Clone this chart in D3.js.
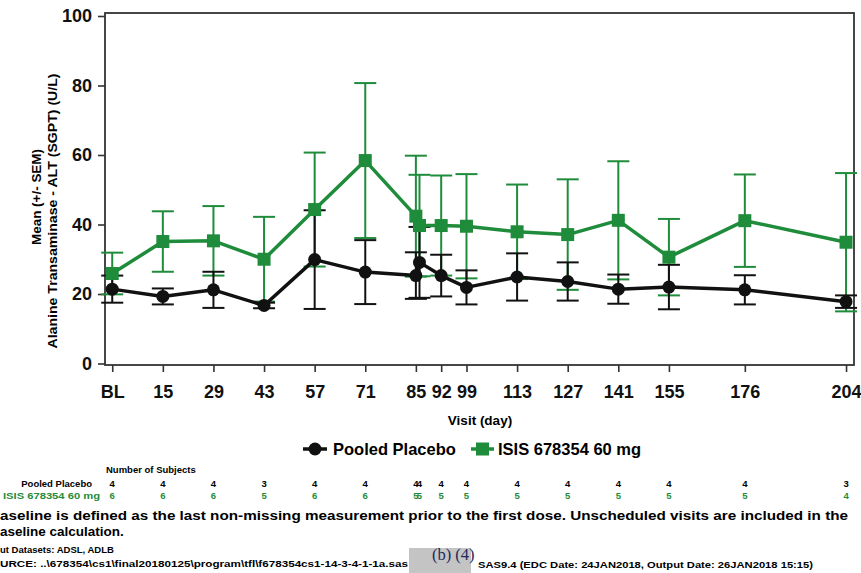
<!DOCTYPE html>
<html>
<head>
<meta charset="utf-8">
<script src="https://cdn.jsdelivr.net/npm/d3@7"></script>
<style>
  body { margin: 0; background: #fff; }
  svg  { display: block; font-family: 'Liberation Sans', Arial, sans-serif; font-weight: bold; }
</style>
</head>
<body>
<svg id="chart" width="861" height="573"></svg>
<script>
// ALT mean (+/- SEM) by visit — placebo vs ISIS 678354 60 mg

// ── Data ──────────────────────────────────────────────────────────────────────

const VISIT_DAYS   = [1, 15, 29, 43, 57, 71, 85, 86, 92, 99, 113, 127, 141, 155, 176, 204];
const TICK_DAYS    = [1, 15, 29, 43, 57, 71, 85, 92, 99, 113, 127, 141, 155, 176, 204];
const TICK_LABELS  = ['BL', '15', '29', '43', '57', '71', '85', '92', '99', '113', '127', '141', '155', '176', '204'];
const Y_TICKS      = [0, 20, 40, 60, 80, 100];

const PLACEBO_MEAN = [21.4, 19.3, 21.2, 16.7, 29.9, 26.3, 25.3, 29.1, 25.3, 21.9, 24.9, 23.6, 21.4, 22.0, 21.2, 17.8];
const PLACEBO_SEM  = [3.9, 2.3, 5.2, 0.8, 14.2, 9.2, 6.7, 10.2, 6.0, 4.9, 6.8, 5.5, 4.2, 6.4, 4.2, 1.8];
const PLACEBO_N    = [4, 4, 4, 3, 4, 4, 4, 4, 4, 4, 4, 4, 4, 4, 4, 3];

const ISIS_MEAN    = [25.9, 35.1, 35.3, 30.0, 44.3, 58.4, 42.4, 39.7, 39.7, 39.5, 37.9, 37.1, 41.2, 30.6, 41.1, 34.9];
const ISIS_SEM     = [6.0, 8.7, 10.0, 12.2, 16.4, 22.3, 17.4, 14.6, 14.4, 15.0, 13.6, 15.9, 17.0, 11.0, 13.3, 19.9];
const ISIS_N       = [6, 6, 6, 5, 6, 6, 5, 5, 5, 5, 5, 5, 5, 5, 5, 4];

const BLACK = '#111';
const GREEN = '#1f8c3b';

// ── Setup ─────────────────────────────────────────────────────────────────────

const svg = d3.select('#chart');
const L = 105, R = 854, T = 13, B = 365;

const x = d3.scaleLinear().domain([-1, 206.2]).range([L, R]);
const y = d3.scaleLinear().domain([0, 100]).range([363.5, 16]);

function series(mean, sem, n) {
  return VISIT_DAYS.map((d, i) => ({ day: d, mean: mean[i], sem: sem[i], n: n[i] }));
}
const placebo = series(PLACEBO_MEAN, PLACEBO_SEM, PLACEBO_N);
const isis    = series(ISIS_MEAN, ISIS_SEM, ISIS_N);

// ── Frame + axes ──────────────────────────────────────────────────────────────

svg.append('rect')
  .attr('x', L).attr('y', T).attr('width', R - L).attr('height', B - T)
  .attr('fill', 'none').attr('stroke', '#333').attr('stroke-width', 1.8);

const yAxis = svg.append('g')
  .attr('transform', `translate(${L},0)`)
  .call(d3.axisLeft(y).tickValues(Y_TICKS).tickSize(7).tickPadding(6));
yAxis.select('.domain').remove();
yAxis.selectAll('line').attr('stroke', '#333').attr('stroke-width', 1.6);
yAxis.selectAll('text').attr('font-size', 18).attr('fill', '#111').attr('font-family', null);

const xAxis = svg.append('g')
  .attr('transform', `translate(0,${B})`)
  .call(d3.axisBottom(x).tickValues(TICK_DAYS).tickSize(7)
    .tickFormat(d => TICK_LABELS[TICK_DAYS.indexOf(d)]));
xAxis.select('.domain').remove();
xAxis.selectAll('line').attr('stroke', '#333').attr('stroke-width', 1.6);
xAxis.selectAll('text').attr('font-size', 18).attr('fill', '#111')
  .attr('y', 33).attr('dy', 0).attr('font-family', null);

// axis titles
svg.append('text')
  .attr('transform', 'translate(41,197) rotate(-90)')
  .attr('text-anchor', 'middle').attr('font-size', 13)
  .attr('textLength', 96).attr('lengthAdjust', 'spacingAndGlyphs')
  .text('Mean (+/- SEM)');
svg.append('text')
  .attr('transform', 'translate(57,211) rotate(-90)')
  .attr('text-anchor', 'middle').attr('font-size', 13.5)
  .attr('textLength', 275).attr('lengthAdjust', 'spacingAndGlyphs')
  .text('Alanine Transaminase - ALT (SGPT) (U/L)');
svg.append('text')
  .attr('x', 480).attr('y', 425).attr('text-anchor', 'middle').attr('font-size', 13.5)
  .text('Visit (day)');

// ── Error bars + lines ────────────────────────────────────────────────────────

function drawBars(data, color) {
  const g = svg.append('g').attr('stroke', color).attr('stroke-width', 2);
  data.forEach(d => {
    const cx = x(d.day), y0 = y(d.mean - d.sem), y1 = y(d.mean + d.sem);
    g.append('line').attr('x1', cx).attr('x2', cx).attr('y1', y0).attr('y2', y1);
    g.append('line').attr('x1', cx - 11).attr('x2', cx + 11).attr('y1', y0).attr('y2', y0);
    g.append('line').attr('x1', cx - 11).attr('x2', cx + 11).attr('y1', y1).attr('y2', y1);
  });
}

function drawLine(data, color, shape) {
  const line = d3.line().x(d => x(d.day)).y(d => y(d.mean));
  svg.append('path').datum(data)
    .attr('d', line).attr('fill', 'none')
    .attr('stroke', color).attr('stroke-width', 3.5).attr('stroke-linejoin', 'round');
  const g = svg.append('g').attr('fill', color);
  if (shape === 'square') {
    g.selectAll('rect').data(data).enter().append('rect')
      .attr('x', d => x(d.day) - 6.5).attr('y', d => y(d.mean) - 6.5)
      .attr('width', 13).attr('height', 13);
  } else {
    g.selectAll('circle').data(data).enter().append('circle')
      .attr('cx', d => x(d.day)).attr('cy', d => y(d.mean)).attr('r', 6.5);
  }
}

drawBars(isis, GREEN);
drawBars(placebo, BLACK);
drawLine(isis, GREEN, 'square');
drawLine(placebo, BLACK, 'circle');

// ── Legend ────────────────────────────────────────────────────────────────────

const leg = svg.append('g').attr('font-size', 16.5);
leg.append('line').attr('x1', 303).attr('x2', 327).attr('y1', 449).attr('y2', 449)
  .attr('stroke', BLACK).attr('stroke-width', 3.5);
leg.append('circle').attr('cx', 315).attr('cy', 449).attr('r', 6.5).attr('fill', BLACK);
leg.append('text').attr('x', 333).attr('y', 455).text('Pooled Placebo');
leg.append('line').attr('x1', 471).attr('x2', 494).attr('y1', 449).attr('y2', 449)
  .attr('stroke', GREEN).attr('stroke-width', 3.5);
leg.append('rect').attr('x', 476).attr('y', 442.5).attr('width', 13).attr('height', 13).attr('fill', GREEN);
leg.append('text').attr('x', 498).attr('y', 455).text('ISIS 678354 60 mg');

// ── Number of subjects ────────────────────────────────────────────────────────

const tbl = svg.append('g').attr('font-size', 9.5);
tbl.append('text').attr('x', 106).attr('y', 473).text('Number of Subjects');
tbl.append('text').attr('x', 92).attr('y', 487).attr('text-anchor', 'end').text('Pooled Placebo');
tbl.append('text').attr('x', 100).attr('y', 499).attr('text-anchor', 'end').attr('fill', GREEN)
  .attr('textLength', 97).attr('lengthAdjust', 'spacingAndGlyphs').text('ISIS 678354 60 mg');
tbl.selectAll('text.np').data(placebo).enter().append('text')
  .attr('class', 'np').attr('x', d => x(d.day)).attr('y', 487)
  .attr('text-anchor', 'middle').text(d => d.n);
tbl.selectAll('text.ni').data(isis).enter().append('text')
  .attr('class', 'ni').attr('x', d => x(d.day)).attr('y', 499)
  .attr('text-anchor', 'middle').attr('fill', GREEN).text(d => d.n);

// ── Footnotes ─────────────────────────────────────────────────────────────────

const foot = svg.append('g');
foot.append('text').attr('x', 0).attr('y', 520).attr('font-size', 13.5)
  .attr('textLength', 848).attr('lengthAdjust', 'spacingAndGlyphs')
  .text('aseline is defined as the last non-missing measurement prior to the first dose. Unscheduled visits are included in the');
foot.append('text').attr('x', 0).attr('y', 536).attr('font-size', 13.5)
  .text('aseline calculation.');
foot.append('text').attr('x', 0).attr('y', 553).attr('font-size', 9.5)
  .text('ut Datasets: ADSL, ADLB');
foot.append('text').attr('x', 0).attr('y', 567).attr('font-size', 9.5)
  .attr('textLength', 408).attr('lengthAdjust', 'spacingAndGlyphs')
  .text('URCE: ..\\678354\\cs1\\final20180125\\program\\tfl\\f678354cs1-14-3-4-1-1a.sas');
foot.append('rect').attr('x', 409).attr('y', 548).attr('width', 62).attr('height', 25).attr('fill', '#c4c4c4');
foot.append('text').attr('x', 432).attr('y', 560).attr('font-size', 16.5)
  .attr('font-family', "'Liberation Serif', 'Times New Roman', serif").attr('font-weight', 'normal')
  .attr('fill', '#1d2b5c').text('(b) (4)');
foot.append('text').attr('x', 478).attr('y', 568).attr('font-size', 9.5)
  .attr('textLength', 335).attr('lengthAdjust', 'spacingAndGlyphs')
  .text('SAS9.4 (EDC Date: 24JAN2018, Output Date: 26JAN2018 15:15)');
</script>
</body>
</html>
